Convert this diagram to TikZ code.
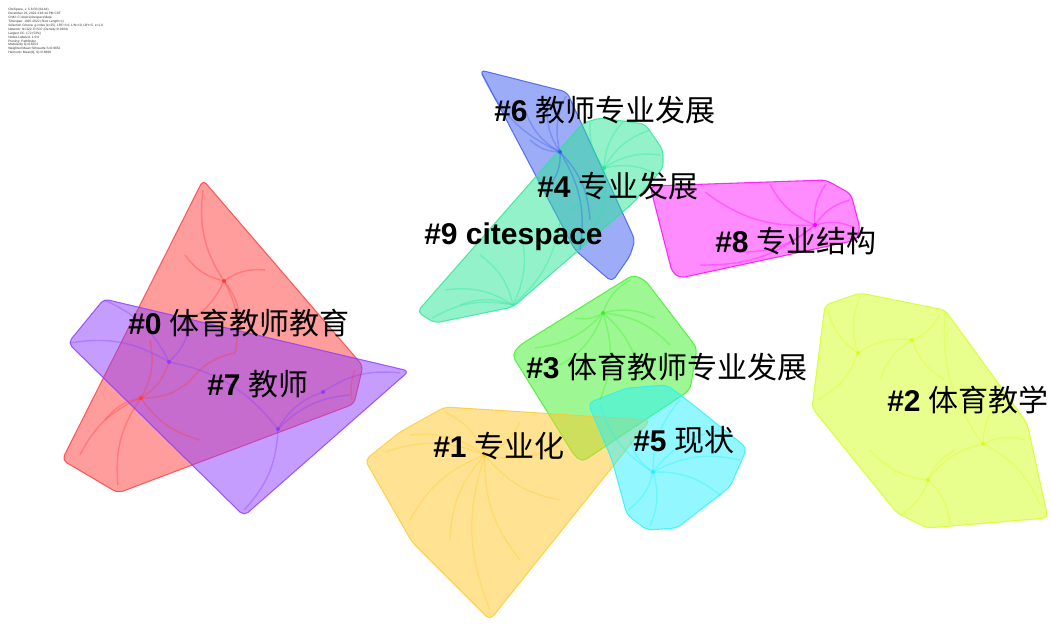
\documentclass[tikz,border=0pt]{standalone}
\usepackage{fontspec}
\setmainfont{Liberation Sans}
\newfontfamily\cjk{Noto Sans CJK SC}
\definecolor{cRed}{RGB}{255,60,60}
\definecolor{cPur}{RGB}{140,60,255}
\definecolor{cBlu}{RGB}{60,90,240}
\definecolor{cTea}{RGB}{40,230,150}
\definecolor{cMag}{RGB}{255,0,255}
\definecolor{cGre}{RGB}{60,240,40}
\definecolor{cYel}{RGB}{255,200,40}
\definecolor{cCya}{RGB}{40,240,255}
\definecolor{cLim}{RGB}{210,255,30}
\tikzset{
  hull/.style={fill=#1, fill opacity=0.5, draw=#1, draw opacity=0.8, line width=0.8pt, rounded corners=4pt, line join=round},
  treeline/.style={draw=#1, draw opacity=0.35, line width=1.1pt},
  dotnode/.style={circle, fill=#1, inner sep=0pt, minimum size=3pt},
  lbl/.style={anchor=west, inner sep=0pt, font=\fontsize{22.5}{24}\selectfont, text=black},
  hdr/.style={anchor=north west, inner sep=0pt, align=left, font=\fontsize{2.4}{2.95}\selectfont, text=black!80}
}
\begin{document}
\begin{tikzpicture}[x=0.75pt,y=-0.75pt]
\useasboundingbox (0,0) rectangle (1051,624);
% header
\node[hdr] (header) at (8,8) {CiteSpace, v. 5.8.R3 (64-bit)\\December 23, 2022 4:18:44 PM CST\\CNKI: C:\textbackslash Users\textbackslash citespace\textbackslash data\\Timespan: 1997-2022 (Slice Length=1)\\Selection Criteria: g-index (k=25), LRF=3.0, L/N=10, LBY=5, e=1.0\\Network: N=322, E=537 (Density=0.0104)\\Largest CC: 172 (53\%)\\Nodes Labeled: 1.0\%\\Pruning: Pathfinder\\Modularity Q=0.8253\\Weighted Mean Silhouette S=0.9652\\Harmonic Mean(Q, S)=0.8898};
% ---------- hulls ----------
\path[hull=cRed] (203,180) -- (363,366) -- (354,404) -- (118,493) -- (62,460) -- cycle;
\path[hull=cPur] (104,299) -- (409,371) -- (244,516) -- (68,343) -- cycle;
\path[hull=cBlu] (480,70) -- (567,92) -- (635,240) -- (630,256) -- (612,282) -- (575,250) -- cycle;
\path[hull=cTea] (417,312) -- (583,123) -- (600,118) -- (645,124) -- (663,150) -- (663,168) -- (633,203) -- (513,307) -- (435,323) -- cycle;
\path[hull=cMag, fill opacity=0.45] (650,186) -- (826,180) -- (851,194) -- (860,228) -- (857,240) -- (680,278) -- (672,272) -- cycle;
\path[hull=cGre] (633,275) -- (645,280) -- (697,348) -- (690,390) -- (582,462) -- (574,455) -- (512,355) -- (520,345) -- cycle;
\path[hull=cYel] (445,407) -- (650,420) -- (490,620) -- (412,542) -- (365,460) -- (400,432) -- cycle;
\path[hull=cCya] (588,403) -- (627,388) -- (667,385) -- (687,400) -- (747,448) -- (730,487) -- (677,528) -- (647,530) -- (627,515) -- (612,460) -- cycle;
\path[hull=cLim] (860,293) -- (945,310) -- (1027,423) -- (1048,518) -- (927,528) -- (897,513) -- (812,408) -- (825,305) -- cycle;
% ---------- tree lines ----------
\foreach \px/\py in {203/190,185/255,265/270,240/330,180/325,235/353}
  \draw[treeline=cRed] (224,281) to[bend left=20] (\px,\py);
\foreach \px/\py in {80/455,118/485,105/420,150/340,190/381,169/362,200/440}
  \draw[treeline=cRed] (141,398) to[bend right=20] (\px,\py);
\draw[treeline=cRed] (190,381) to[bend left=20] (235,353);
\draw[treeline=cRed] (352,400) to[bend left=15] (355,370);
\foreach \ax/\ay/\bx/\by in {104/300/169/362, 70/343/169/362, 169/362/278/429, 278/429/323/392, 278/429/244/510, 323/392/400/373, 278/429/350/395, 190/320/169/362}
  \draw[treeline=cPur] (\ax,\ay) to[bend left=20] (\bx,\by);
\foreach \px/\py in {482/74,525/110,530/140,566/96,590/220,550/185,580/250,548/100}
  \draw[treeline=cBlu] (560,152) to[bend left=20] (\px,\py);
\foreach \px/\py in {590/122,625/120,650/130,660/155,658/175,570/210,590/235}
  \draw[treeline=cTea] (604,168) to[bend left=20] (\px,\py);
\foreach \px/\py in {432/318,445/290,480/255,520/230,560/220,460/305}
  \draw[treeline=cTea] (513,305) to[bend right=20] (\px,\py);
\foreach \px/\py in {705/192,770/184,826/184,850/200,855/228,700/265,740/252}
  \draw[treeline=cMag] (815,225) to[bend left=20] (\px,\py);
\foreach \px/\py in {575/318,630/280,655/318,670/345,640/380,600/400,535/348,560/365}
  \draw[treeline=cGre] (603,313) to[bend left=20] (\px,\py);
\foreach \px/\py in {600/405,630/440,680/400,720/430,740/460,720/495,650/526,628/510}
  \draw[treeline=cCya] (653,472) to[bend left=20] (\px,\py);
\foreach \px/\py in {385/452,410/435,445/412,520/422,560/445,560/500,520/560,450/540,410/520,490/610}
  \draw[treeline=cYel] (485,455) to[bend right=20] (\px,\py);
\foreach \px/\py in {870/450,900/515,950/525,955/450,983/444}
  \draw[treeline=cLim] (928,480) to[bend left=20] (\px,\py);
\foreach \px/\py in {1025/440,1040/505,1000/400,945/312}
  \draw[treeline=cLim] (983,444) to[bend left=20] (\px,\py);
\foreach \px/\py in {860/297,828/310,818/400,912/340}
  \draw[treeline=cLim] (858,353) to[bend left=20] (\px,\py);
\foreach \px/\py in {940/314,945/380,880/380}
  \draw[treeline=cLim] (912,340) to[bend right=20] (\px,\py);
% ---------- node dots ----------
\node[dotnode=cRed] (r1) at (224,281) {};
\node[dotnode=cRed] (r2) at (141,398) {};
\node[dotnode=cPur] (p1) at (169,362) {};
\node[dotnode=cPur] (p2) at (278,429) {};
\node[dotnode=cPur] (p3) at (323,392) {};
\node[dotnode=cBlu] (b1) at (560,152) {};
\node[dotnode=cTea] (t1) at (604,168) {};
\node[dotnode=cMag] (m1) at (815,225) {};
\node[dotnode=cGre] (g1) at (603,313) {};
\node[dotnode=cCya] (c1) at (653,472) {};
\node[dotnode=cYel] (y1) at (485,455) {};
\node[dotnode=cLim] (l1) at (928,480) {};
\node[dotnode=cLim] (l2) at (983,444) {};
\node[dotnode=cLim] (l3) at (858,353) {};
\node[dotnode=cLim] (l4) at (912,340) {};
% ---------- labels ----------
\node[lbl] (lab6) at (494,110) {\textbf{\#6} {\cjk 教师专业发展}};
\node[lbl] (lab4) at (537,186) {\textbf{\#4} {\cjk 专业发展}};
\node[lbl] (lab9) at (424,237) {\textbf{\#9 citespace}};
\node[lbl] (lab8) at (715,241) {\textbf{\#8} {\cjk 专业结构}};
\node[lbl] (lab0) at (128,323) {\textbf{\#0} {\cjk 体育教师教育}};
\node[lbl] (lab3) at (526,367) {\textbf{\#3} {\cjk 体育教师专业发展}};
\node[lbl] (lab7) at (207,384) {\textbf{\#7} {\cjk 教师}};
\node[lbl] (lab2) at (887,400) {\textbf{\#2} {\cjk 体育教学}};
\node[lbl] (lab1) at (433,446) {\textbf{\#1} {\cjk 专业化}};
\node[lbl] (lab5) at (633,440) {\textbf{\#5} {\cjk 现状}};
\end{tikzpicture}
\end{document}
